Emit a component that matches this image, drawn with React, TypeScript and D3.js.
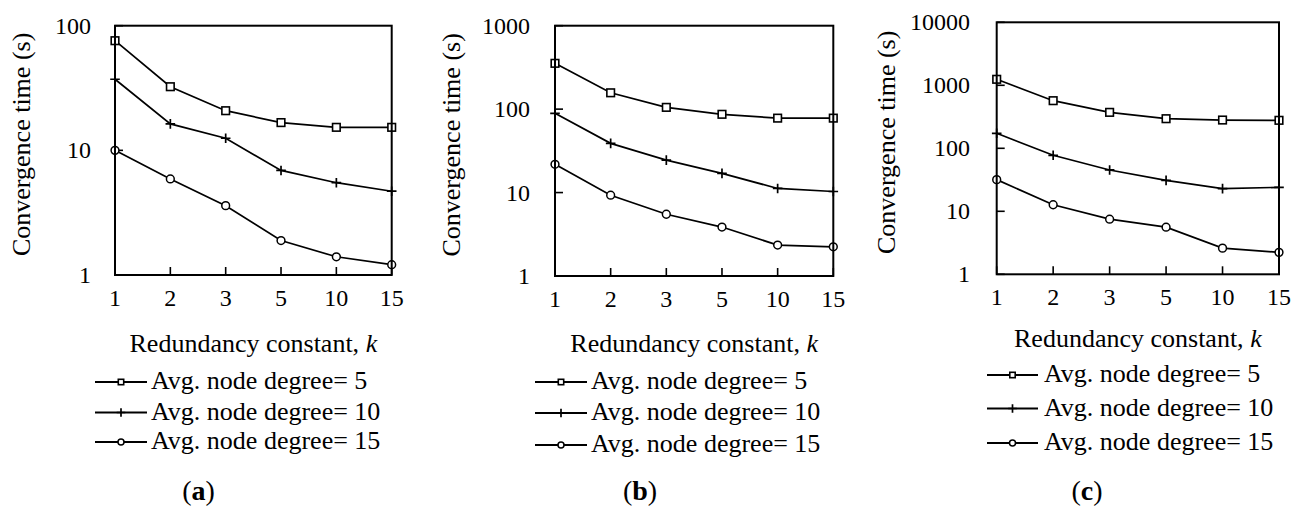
import React from "react";
import * as d3 from "d3";

const categories = ["1", "2", "3", "5", "10", "15"];
const seriesNames = ["Avg. node degree= 5", "Avg. node degree= 10", "Avg. node degree= 15"];

// Panel (a)
const aDeg5 = [75.8, 32.4, 20.8, 16.7, 15.3, 15.3];
const aDeg10 = [37.2, 16.3, 12.5, 6.9, 5.5, 4.7];
const aDeg15 = [10, 5.9, 3.6, 1.89, 1.4, 1.21];
const aTicks = [1, 10, 100];

// Panel (b)
const bDeg5 = [354, 157, 105, 86.7, 78, 78];
const bDeg10 = [89, 38.9, 24.5, 17, 11.2, 10.3];
const bDeg15 = [21.8, 9.3, 5.5, 3.86, 2.35, 2.24];
const bTicks = [1, 10, 100, 1000];

// Panel (c)
const cDeg5 = [1245, 570, 372, 295, 281, 278];
const cDeg10 = [173, 77.4, 45.3, 31, 22.9, 24];
const cDeg15 = [31.8, 12.7, 7.5, 5.6, 2.6, 2.23];
const cTicks = [1, 10, 100, 1000, 10000];

const panelLabels = ["a", "b", "c"];

const FONT = "Liberation Serif";
const FS = 26;
const TFS = 24;

const panels = [
  {
    label: panelLabels[0], series: [aDeg5, aDeg10, aDeg15], ticks: aTicks,
    box: { l: 115, r: 391.7, t: 25.7, b: 275 },
    yLabelX: 22, tickRight: 91, titleY: 351.5,
    legend: { x0: 95, x1: 147, tx: 151, rows: [382, 412.5, 442] }, sub: { x: 198.5, y: 500 },
  },
  {
    label: panelLabels[1], series: [bDeg5, bDeg10, bDeg15], ticks: bTicks,
    box: { l: 555, r: 833.3, t: 25.7, b: 276 },
    yLabelX: 452, tickRight: 530, titleY: 351.5,
    legend: { x0: 535, x1: 587, tx: 591, rows: [382, 413, 445] }, sub: { x: 640, y: 500 },
  },
  {
    label: panelLabels[2], series: [cDeg5, cDeg10, cDeg15], ticks: cTicks,
    box: { l: 996.7, r: 1279, t: 22.3, b: 274.3 },
    yLabelX: 887, tickRight: 970, titleY: 347,
    legend: { x0: 987, x1: 1038, tx: 1044, rows: [375, 408.5, 443] }, sub: { x: 1087, y: 500 },
  },
];

function Marker({ kind, x, y, s }: { kind: number; x: number; y: number; s: number }) {
  if (kind === 0) {
    return <rect x={x - s} y={y - s} width={2 * s} height={2 * s} fill="white" stroke="black" strokeWidth={1.6} />;
  }
  if (kind === 1) {
    return (
      <path d={`M${x - s - 0.5},${y}H${x + s + 0.5}M${x},${y - s - 0.5}V${y + s + 0.5}`} stroke="black" strokeWidth={1.7} fill="none" />
    );
  }
  return <circle cx={x} cy={y} r={s} fill="white" stroke="black" strokeWidth={1.5} />;
}

const txt = (size: number, extra: React.CSSProperties = {}) => ({ fontFamily: FONT, fontSize: size, ...extra });

function Panel({ p }: { p: (typeof panels)[number] }) {
  const { box } = p;
  const x = d3.scalePoint<string>().domain(categories).range([box.l, box.r]).padding(0);
  const y = d3.scaleLog().domain([p.ticks[0], p.ticks[p.ticks.length - 1]]).range([box.b, box.t]);
  const line = d3
    .line<number>()
    .x((_, i) => x(categories[i]) as number)
    .y((v) => y(v));
  const markerSize = [3.8, 4.3, 3.9];
  const legendMarker = [2.7, 3.8, 3.0];
  return (
    <g>
      {p.ticks.map((t) => (
        <g key={"yt" + t}>
          <line x1={box.l} x2={box.l + 8} y1={y(t)} y2={y(t)} stroke="black" strokeWidth={1.6} />
          <text x={p.tickRight} y={y(t) + 8} textAnchor="end" style={txt(TFS)}>
            {t}
          </text>
        </g>
      ))}
      {categories.map((c) => (
        <g key={"xt" + c}>
          <line x1={x(c)} x2={x(c)} y1={box.b} y2={box.b - 8} stroke="black" strokeWidth={1.6} />
          <text x={x(c)} y={box.b + 31} textAnchor="middle" style={txt(TFS)}>
            {c}
          </text>
        </g>
      ))}
      {p.series.map((vals, si) => (
        <path key={"s" + si} d={line(vals) || ""} fill="none" stroke="black" strokeWidth={1.7} />
      ))}
      {p.series.map((vals, si) => (
        <g key={"m" + si}>
          {vals.map((v, i) => (
            <Marker key={i} kind={si} x={x(categories[i]) as number} y={y(v)} s={markerSize[si]} />
          ))}
        </g>
      ))}
      <rect x={box.l} y={box.t} width={box.r - box.l} height={box.b - box.t} fill="none" stroke="black" strokeWidth={2} />
      <text
        transform={`translate(${p.yLabelX + 8},${(box.t + box.b) / 2 - 6}) rotate(-90)`}
        textAnchor="middle"
        style={txt(FS)}
      >
        Convergence time (s)
      </text>
      <text x={(box.l + box.r) / 2} y={p.titleY} textAnchor="middle" style={txt(FS)}>
        Redundancy constant, <tspan style={{ fontStyle: "italic" }}>k</tspan>
      </text>
      {seriesNames.map((n, si) => {
        const ly = p.legend.rows[si];
        const mx = (p.legend.x0 + p.legend.x1) / 2;
        return (
          <g key={"lg" + si}>
            <line x1={p.legend.x0} x2={p.legend.x1} y1={ly} y2={ly} stroke="black" strokeWidth={2} />
            <Marker kind={si} x={mx} y={ly} s={legendMarker[si]} />
            <text x={p.legend.tx} y={ly + 7} style={txt(FS)}>
              {n}
            </text>
          </g>
        );
      })}
      <text x={p.sub.x} y={p.sub.y} textAnchor="middle" style={txt(28)}>
        (<tspan style={{ fontWeight: "bold" }}>{p.label}</tspan>)
      </text>
    </g>
  );
}

export default function App() {
  return (
    <svg width={1301} height={507} style={{ position: "absolute", left: 0, top: 0, background: "white" }}>
      <rect width={1301} height={507} fill="white" />
      {panels.map((p) => (
        <Panel key={p.label} p={p} />
      ))}
    </svg>
  );
}
